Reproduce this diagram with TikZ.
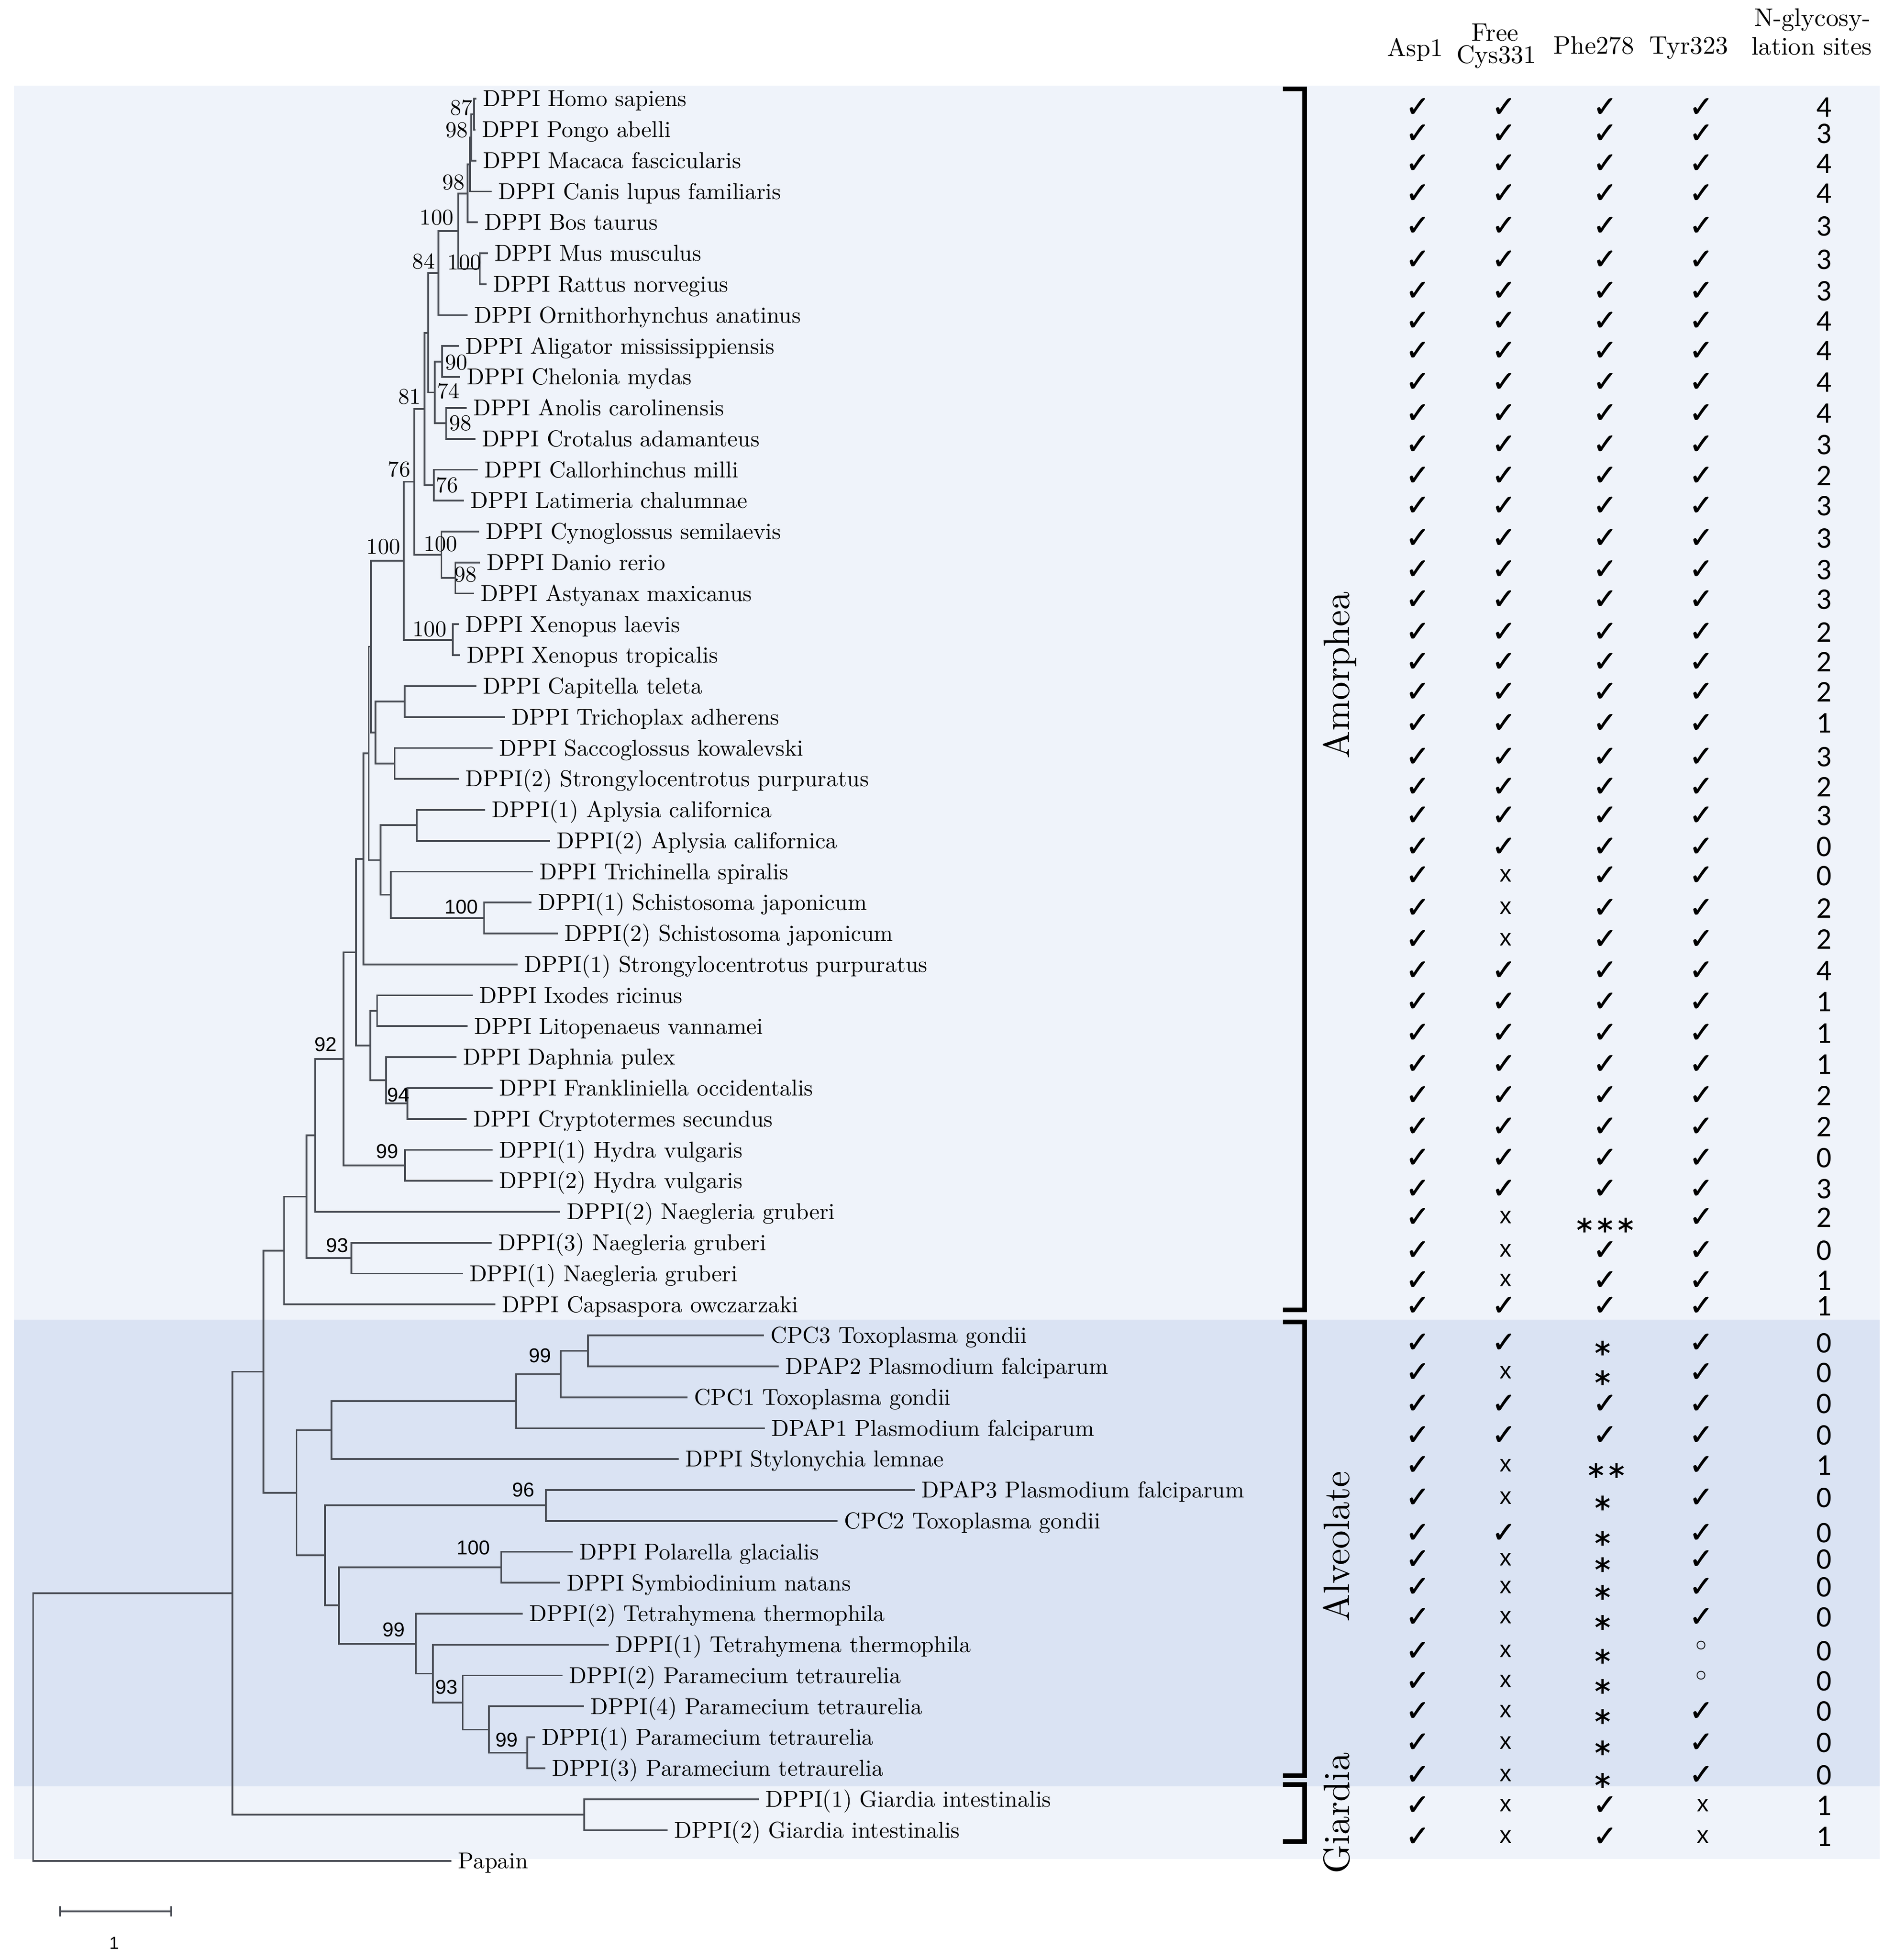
\documentclass[tikz,border=0pt]{standalone}
\usepackage{fontspec}
\newfontfamily\symf{DejaVu Sans}
\newfontfamily\symfb{DejaVu Sans}[FakeBold=1.6]
\newfontfamily\bsf{Liberation Sans}
\newfontfamily\numf{Carlito}
\definecolor{bandlight}{RGB}{239,243,250}
\definecolor{banddark}{RGB}{218,227,243}
\definecolor{treegray}{RGB}{72,76,84}
\tikzset{
 branch/.style={draw=treegray,line width=1.4pt},
 brk/.style={draw=black,line width=3.7pt},
 leaflab/.style={font=\fontsize{10}{12}\selectfont,scale=1.84,inner sep=0pt,anchor=base west,text=black},
 hdr/.style={font=\fontsize{10}{12}\selectfont,scale=2.03,inner sep=0pt,anchor=base},
 bss/.style={font=\fontsize{10}{12}\selectfont,scale=1.8,inner sep=0pt},
 bsn/.style={font=\bsf\fontsize{16}{18}\selectfont,inner sep=0pt},
 clade/.style={font=\fontsize{10}{12}\selectfont,scale=2.95,rotate=90,inner sep=0pt,anchor=base},
 numtxt/.style={font=\numf\fontsize{24}{26}\selectfont,inner sep=0pt},
 sym/.style={font=\symfb\fontsize{23}{25}\selectfont,inner sep=0pt},
 crs/.style={font=\bsf\fontsize{19}{21}\selectfont,inner sep=0pt},
 ast/.style={font=\symfb\fontsize{25}{27}\selectfont,inner sep=0pt,text height=0pt,text depth=0pt},
 rng/.style={font=\symf\fontsize{24}{26}\selectfont,inner sep=0pt}
}
\newcommand\mkleaf[4]{\coordinate (#1) at (#3-6.5,{54.25+24.75*#2});
 \node[leaflab] (#1L) at (#3-1.5,{60.45+24.75*#2}) {#4};}
\newcommand\twig[3]{\draw[branch] (#1) |- (#2) (#1) |- (#3);}
\newcommand\tck[3]{\node[sym] (#1) at (#2,#3) {✓};}
\newcommand\tcx[3]{\node[crs] (#1) at (#2+1.5,#3) {x};}
\newcommand\tsa[3]{\node[ast] (#1) at (#2-2,#3+17) {*};}
\newcommand\tsb[3]{\node[ast] (#1) at (#2+1,#3+17) {*\kern4pt*};}
\newcommand\tsc[3]{\node[ast] (#1) at (#2,#3+19) {*\kern4pt*\kern4pt*};}
\newcommand\tri[3]{\node[rng] (#1) at (#2,#3-2) {◦};}
\newcommand\trow[7]{#3{r#1a}{1135}{#2}#4{r#1b}{1204}{#2}#5{r#1c}{1285}{#2}#6{r#1d}{1362}{#2}\node[numtxt] (r#1n) at (1460.5,#2) {#7};}
\begin{document}
\begin{tikzpicture}[x=1pt,y=-1pt]
\useasboundingbox (0,0) rectangle (1516,1569);
\fill[white] (0,0) rectangle (1516,1569);
\fill[bandlight] (11.2,68.5) rectangle (1505,1056.5);
\fill[banddark] (11.2,1056.5) rectangle (1505,1430);
\fill[bandlight] (11.2,1430) rectangle (1505,1488);
% leaves
\mkleaf{t1}{1}{388}{DPPI Homo sapiens}
\mkleaf{t2}{2}{387}{DPPI Pongo abelli}
\mkleaf{t3}{3}{388}{DPPI Macaca fascicularis}
\mkleaf{t4}{4}{400}{DPPI Canis lupus familiaris}
\mkleaf{t5}{5}{389}{DPPI Bos taurus}
\mkleaf{t6}{6}{397}{DPPI Mus musculus}
\mkleaf{t7}{7}{396}{DPPI Rattus norvegius}
\mkleaf{t8}{8}{381}{DPPI Ornithorhynchus anatinus}
\mkleaf{t9}{9}{374}{DPPI Aligator mississippiensis}
\mkleaf{t10}{10}{375}{DPPI Chelonia mydas}
\mkleaf{t11}{11}{380}{DPPI Anolis carolinensis}
\mkleaf{t12}{12}{387}{DPPI Crotalus adamanteus}
\mkleaf{t13}{13}{389}{DPPI Callorhinchus milli}
\mkleaf{t14}{14}{378}{DPPI Latimeria chalumnae}
\mkleaf{t15}{15}{390}{DPPI Cynoglossus semilaevis}
\mkleaf{t16}{16}{391}{DPPI Danio rerio}
\mkleaf{t17}{17}{386}{DPPI Astyanax maxicanus}
\mkleaf{t18}{18}{374}{DPPI Xenopus laevis}
\mkleaf{t19}{19}{375}{DPPI Xenopus tropicalis}
\mkleaf{t20}{20}{388}{DPPI Capitella teleta}
\mkleaf{t21}{21}{411}{DPPI Trichoplax adherens}
\mkleaf{t22}{22}{401}{DPPI Saccoglossus kowalevski}
\mkleaf{t23}{23}{374}{DPPI(2) Strongylocentrotus purpuratus}
\mkleaf{t24}{24}{395}{DPPI(1) Aplysia californica}
\mkleaf{t25}{25}{447}{DPPI(2) Aplysia californica}
\mkleaf{t26}{26}{433}{DPPI Trichinella spiralis}
\mkleaf{t27}{27}{432}{DPPI(1) Schistosoma japonicum}
\mkleaf{t28}{28}{453}{DPPI(2) Schistosoma japonicum}
\mkleaf{t29}{29}{421}{DPPI(1) Strongylocentrotus purpuratus}
\mkleaf{t30}{30}{385}{DPPI Ixodes ricinus}
\mkleaf{t31}{31}{381}{DPPI Litopenaeus vannamei}
\mkleaf{t32}{32}{372}{DPPI Daphnia pulex}
\mkleaf{t33}{33}{401}{DPPI Frankliniella occidentalis}
\mkleaf{t34}{34}{380}{DPPI Cryptotermes secundus}
\mkleaf{t35}{35}{401}{DPPI(1) Hydra vulgaris}
\mkleaf{t36}{36}{401}{DPPI(2) Hydra vulgaris}
\mkleaf{t37}{37}{455}{DPPI(2) Naegleria gruberi}
\mkleaf{t38}{38}{400}{DPPI(3) Naegleria gruberi}
\mkleaf{t39}{39}{377}{DPPI(1) Naegleria gruberi}
\mkleaf{t40}{40}{403}{DPPI Capsaspora owczarzaki}
\mkleaf{t41}{41}{618}{CPC3 Toxoplasma gondii}
\mkleaf{t42}{42}{630}{DPAP2 Plasmodium falciparum}
\mkleaf{t43}{43}{557}{CPC1 Toxoplasma gondii}
\mkleaf{t44}{44}{619}{DPAP1 Plasmodium falciparum}
\mkleaf{t45}{45}{550}{DPPI Stylonychia lemnae}
\mkleaf{t46}{46}{739}{DPAP3 Plasmodium falciparum}
\mkleaf{t47}{47}{677}{CPC2 Toxoplasma gondii}
\mkleaf{t48}{48}{465}{DPPI Polarella glacialis}
\mkleaf{t49}{49}{455}{DPPI Symbiodinium natans}
\mkleaf{t50}{50}{425}{DPPI(2) Tetrahymena thermophila}
\mkleaf{t51}{51}{494}{DPPI(1) Tetrahymena thermophila}
\mkleaf{t52}{52}{457}{DPPI(2) Paramecium tetraurelia}
\mkleaf{t53}{53}{474}{DPPI(4) Paramecium tetraurelia}
\mkleaf{t54}{54}{435}{DPPI(1) Paramecium tetraurelia}
\mkleaf{t55}{55}{443}{DPPI(3) Paramecium tetraurelia}
\mkleaf{t56}{56}{614}{DPPI(1) Giardia intestinalis}
\mkleaf{t57}{57}{541}{DPPI(2) Giardia intestinalis}
\mkleaf{t58}{58}{368}{Papain}
% internal nodes
\coordinate (n1) at (379.5,91.375);
\coordinate (n2) at (377.4,109.94);
\coordinate (n3) at (376.2,131.6);
\coordinate (n4) at (374.4,154.8);
\coordinate (nMR) at (384.2,215.125);
\coordinate (n5) at (367,184.96);
\coordinate (n6) at (350.9,218.6);
\coordinate (nAlCh) at (354,289.375);
\coordinate (nAC) at (357.1,338.875);
\coordinate (n74) at (348,314.125);
\coordinate (n7) at (342.9,266.36);
\coordinate (nCL) at (347.2,388.375);
\coordinate (n8) at (339.8,327.37);
\coordinate (nDA) at (364.5,462.625);
\coordinate (nF) at (353.4,444.06);
\coordinate (n9) at (331.7,385.7);
\coordinate (nX) at (362.6,512.125);
\coordinate (n10) at (323.1,448.9);
\coordinate (nCT) at (324,561.625);
\coordinate (nSS) at (316,611.125);
\coordinate (n12) at (300.7,586.375);
\coordinate (n11) at (296.8,517.64);
\coordinate (nApl) at (333.7,660.625);
\coordinate (nSch) at (387.5,734.875);
\coordinate (nTS) at (312.8,716.31);
\coordinate (nI2) at (304.7,688.47);
\coordinate (n13) at (295.2,603.05);
\coordinate (n14) at (291.1,687.53);
\coordinate (nIL) at (301.9,809.125);
\coordinate (nFC) at (326.2,883.375);
\coordinate (nDFC) at (309.1,864.81);
\coordinate (nAr) at (296.5,836.97);
\coordinate (n15) at (284.9,762.25);
\coordinate (nHy) at (324.4,932.875);
\coordinate (n16) at (275,847.56);
\coordinate (n17) at (252.5,908.78);
\coordinate (nN31) at (281.3,1007.125);
\coordinate (n18) at (245.3,957.95);
\coordinate (n19) at (227.4,1001.1);
\coordinate (nCD) at (470.7,1081.375);
\coordinate (nA99) at (448.9,1099.94);
\coordinate (nA3) at (413.2,1121.6);
\coordinate (nA4) at (265.3,1144.8);
\coordinate (n96) at (437,1205.125);
\coordinate (nPS) at (401.2,1254.625);
\coordinate (nP99) at (422.1,1403.125);
\coordinate (nE) at (391.3,1384.56);
\coordinate (n93) at (370.5,1362.9);
\coordinate (nD) at (346.6,1339.7);
\coordinate (nTet) at (332.8,1315.73);
\coordinate (nC) at (271.2,1285.18);
\coordinate (nB) at (260.3,1245.15);
\coordinate (nAlv) at (237.4,1194.98);
\coordinate (n20) at (210.9,1098.04);
\coordinate (nG) at (467.8,1452.625);
\coordinate (n21) at (186.1,1275.33);
\coordinate (root) at (26.5,1382.54);
% branches
\twig{n1}{t1}{t2}
\twig{n2}{n1}{t3}
\twig{n3}{n2}{t4}
\twig{n4}{n3}{t5}
\twig{nMR}{t6}{t7}
\twig{n5}{n4}{nMR}
\twig{n6}{n5}{t8}
\twig{nAlCh}{t9}{t10}
\twig{nAC}{t11}{t12}
\twig{n74}{nAlCh}{nAC}
\twig{n7}{n6}{n74}
\twig{nCL}{t13}{t14}
\twig{n8}{n7}{nCL}
\twig{nDA}{t16}{t17}
\twig{nF}{t15}{nDA}
\twig{n9}{n8}{nF}
\twig{nX}{t18}{t19}
\twig{n10}{n9}{nX}
\twig{nCT}{t20}{t21}
\twig{nSS}{t22}{t23}
\twig{n12}{nCT}{nSS}
\twig{n11}{n10}{n12}
\twig{nApl}{t24}{t25}
\twig{nSch}{t27}{t28}
\twig{nTS}{t26}{nSch}
\twig{nI2}{nApl}{nTS}
\twig{n13}{n11}{nI2}
\twig{n14}{n13}{t29}
\twig{nIL}{t30}{t31}
\twig{nFC}{t33}{t34}
\twig{nDFC}{t32}{nFC}
\twig{nAr}{nIL}{nDFC}
\twig{n15}{n14}{nAr}
\twig{nHy}{t35}{t36}
\twig{n16}{n15}{nHy}
\twig{n17}{n16}{t37}
\twig{nN31}{t38}{t39}
\twig{n18}{n17}{nN31}
\twig{n19}{n18}{t40}
\twig{nCD}{t41}{t42}
\twig{nA99}{nCD}{t43}
\twig{nA3}{nA99}{t44}
\twig{nA4}{nA3}{t45}
\twig{n96}{t46}{t47}
\twig{nPS}{t48}{t49}
\twig{nP99}{t54}{t55}
\twig{nE}{t53}{nP99}
\twig{n93}{t52}{nE}
\twig{nD}{t51}{n93}
\twig{nTet}{t50}{nD}
\twig{nC}{nPS}{nTet}
\twig{nB}{n96}{nC}
\twig{nAlv}{nA4}{nB}
\twig{n20}{n19}{nAlv}
\twig{nG}{t56}{t57}
\twig{n21}{n20}{nG}
\twig{root}{n21}{t58}
% bootstrap values
\node[bss] (b87) at (369.5,86.2) {87};
\node[bss] (b98a) at (365.7,104) {98};
\node[bss] (b98b) at (363.2,146) {98};
\node[bss] (b100a) at (349.6,174.3) {100};
\node[bss] (b84) at (339.2,209.4) {84};
\node[bss] (b100b) at (371.9,210) {100};
\node[bss] (b90) at (365.4,290) {90};
\node[bss] (b74) at (359,313) {74};
\node[bss] (b81) at (328,317.5) {81};
\node[bss] (b98c) at (368.8,338.6) {98};
\node[bss] (b76a) at (358,388.2) {76};
\node[bss] (b76b) at (319.6,375.8) {76};
\node[bss] (b100c) at (352.7,435.4) {100};
\node[bss] (b98d) at (372.8,459.8) {98};
\node[bss] (b100d) at (307,437.8) {100};
\node[bss] (b100e) at (344,503.7) {100};
\node[bsn] (b100f) at (369.4,726) {100};
\node[bsn] (b94) at (319,876.5) {94};
\node[bsn] (b92) at (260.6,836) {92};
\node[bsn] (b99a) at (310,921.5) {99};
\node[bsn] (b93a) at (270,997) {93};
\node[bsn] (b99b) at (432.5,1085) {99};
\node[bsn] (b96) at (419,1192.5) {96};
\node[bsn] (b100g) at (379,1239) {100};
\node[bsn] (b99c) at (315.4,1304.4) {99};
\node[bsn] (b93b) at (357.5,1350.7) {93};
\node[bsn] (b99d) at (405.7,1392.7) {99};
% brackets and clade names
\draw[brk] (1027,71) -- (1044.5,71) -- (1044.5,1048.6) -- (1027,1048.6);
\draw[brk] (1027,1058.2) -- (1044.5,1058.2) -- (1044.5,1421.5) -- (1027,1421.5);
\draw[brk] (1027,1428.5) -- (1044.5,1428.5) -- (1044.5,1474) -- (1027,1474);
\node[clade] (cAm) at (1080.3,540.5) {Amorphea};
\node[clade] (cAl) at (1080.3,1238) {Alveolate};
\node[clade] (cGi) at (1080.3,1451.5) {Giardia};
% header
\node[hdr] (h1) at (1133,45) {Asp1};
\node[hdr] (h2a) at (1197,32.7) {Free};
\node[hdr] (h2b) at (1198,50.6) {Cys331};
\node[hdr] (h3) at (1276,43.2) {Phe278};
\node[hdr] (h4) at (1352,43.2) {Tyr323};
\node[hdr] (h5a) at (1451,21) {N-glycosy-};
\node[hdr] (h5b) at (1450.5,43.8) {lation sites};
% table
\trow{1}{86}{\tck}{\tck}{\tck}{\tck}{4}
\trow{2}{107}{\tck}{\tck}{\tck}{\tck}{3}
\trow{3}{131}{\tck}{\tck}{\tck}{\tck}{4}
\trow{4}{155}{\tck}{\tck}{\tck}{\tck}{4}
\trow{5}{181}{\tck}{\tck}{\tck}{\tck}{3}
\trow{6}{208}{\tck}{\tck}{\tck}{\tck}{3}
\trow{7}{233}{\tck}{\tck}{\tck}{\tck}{3}
\trow{8}{257}{\tck}{\tck}{\tck}{\tck}{4}
\trow{9}{281}{\tck}{\tck}{\tck}{\tck}{4}
\trow{10}{306}{\tck}{\tck}{\tck}{\tck}{4}
\trow{11}{331}{\tck}{\tck}{\tck}{\tck}{4}
\trow{12}{356}{\tck}{\tck}{\tck}{\tck}{3}
\trow{13}{381}{\tck}{\tck}{\tck}{\tck}{2}
\trow{14}{405}{\tck}{\tck}{\tck}{\tck}{3}
\trow{15}{431}{\tck}{\tck}{\tck}{\tck}{3}
\trow{16}{456}{\tck}{\tck}{\tck}{\tck}{3}
\trow{17}{480}{\tck}{\tck}{\tck}{\tck}{3}
\trow{18}{506}{\tck}{\tck}{\tck}{\tck}{2}
\trow{19}{530}{\tck}{\tck}{\tck}{\tck}{2}
\trow{20}{554}{\tck}{\tck}{\tck}{\tck}{2}
\trow{21}{579}{\tck}{\tck}{\tck}{\tck}{1}
\trow{22}{606}{\tck}{\tck}{\tck}{\tck}{3}
\trow{23}{630}{\tck}{\tck}{\tck}{\tck}{2}
\trow{24}{653}{\tck}{\tck}{\tck}{\tck}{3}
\trow{25}{678}{\tck}{\tck}{\tck}{\tck}{0}
\trow{26}{701}{\tck}{\tcx}{\tck}{\tck}{0}
\trow{27}{727}{\tck}{\tcx}{\tck}{\tck}{2}
\trow{28}{752}{\tck}{\tcx}{\tck}{\tck}{2}
\trow{29}{777}{\tck}{\tck}{\tck}{\tck}{4}
\trow{30}{802}{\tck}{\tck}{\tck}{\tck}{1}
\trow{31}{827}{\tck}{\tck}{\tck}{\tck}{1}
\trow{32}{852}{\tck}{\tck}{\tck}{\tck}{1}
\trow{33}{877}{\tck}{\tck}{\tck}{\tck}{2}
\trow{34}{902}{\tck}{\tck}{\tck}{\tck}{2}
\trow{35}{927}{\tck}{\tck}{\tck}{\tck}{0}
\trow{36}{951.8}{\tck}{\tck}{\tck}{\tck}{3}
\trow{37}{974.5}{\tck}{\tcx}{\tsc}{\tck}{2}
\trow{38}{1001}{\tck}{\tcx}{\tck}{\tck}{0}
\trow{39}{1025}{\tck}{\tcx}{\tck}{\tck}{1}
\trow{40}{1045.5}{\tck}{\tck}{\tck}{\tck}{1}
\trow{41}{1075}{\tck}{\tck}{\tsa}{\tck}{0}
\trow{42}{1098.7}{\tck}{\tcx}{\tsa}{\tck}{0}
\trow{43}{1123.9}{\tck}{\tck}{\tck}{\tck}{0}
\trow{44}{1149.1}{\tck}{\tck}{\tck}{\tck}{0}
\trow{45}{1173}{\tck}{\tcx}{\tsb}{\tck}{1}
\trow{46}{1199}{\tck}{\tcx}{\tsa}{\tck}{0}
\trow{47}{1227.3}{\tck}{\tck}{\tsa}{\tck}{0}
\trow{48}{1248.4}{\tck}{\tcx}{\tsa}{\tck}{0}
\trow{49}{1270.5}{\tck}{\tcx}{\tsa}{\tck}{0}
\trow{50}{1294.6}{\tck}{\tcx}{\tsa}{\tck}{0}
\trow{51}{1321.7}{\tck}{\tcx}{\tsa}{\tri}{0}
\trow{52}{1345.8}{\tck}{\tcx}{\tsa}{\tri}{0}
\trow{53}{1370}{\tck}{\tcx}{\tsa}{\tck}{0}
\trow{54}{1395}{\tck}{\tcx}{\tsa}{\tck}{0}
\trow{55}{1421}{\tck}{\tcx}{\tsa}{\tck}{0}
\trow{56}{1445.3}{\tck}{\tcx}{\tck}{\tcx}{1}
\trow{57}{1470.4}{\tck}{\tcx}{\tck}{\tcx}{1}
% scale bar
\coordinate (sbL) at (48.2,1530);
\coordinate (sbR) at (137.1,1530);
\draw[branch] (sbL) -- (sbR);
\draw[branch] ([yshift=4pt]sbL) -- ([yshift=-4pt]sbL);
\draw[branch] ([yshift=4pt]sbR) -- ([yshift=-4pt]sbR);
\node[font=\bsf\fontsize{14}{16}\selectfont,inner sep=0pt] (sbT) at (91.4,1555.5) {1};
\end{tikzpicture}
\end{document}
